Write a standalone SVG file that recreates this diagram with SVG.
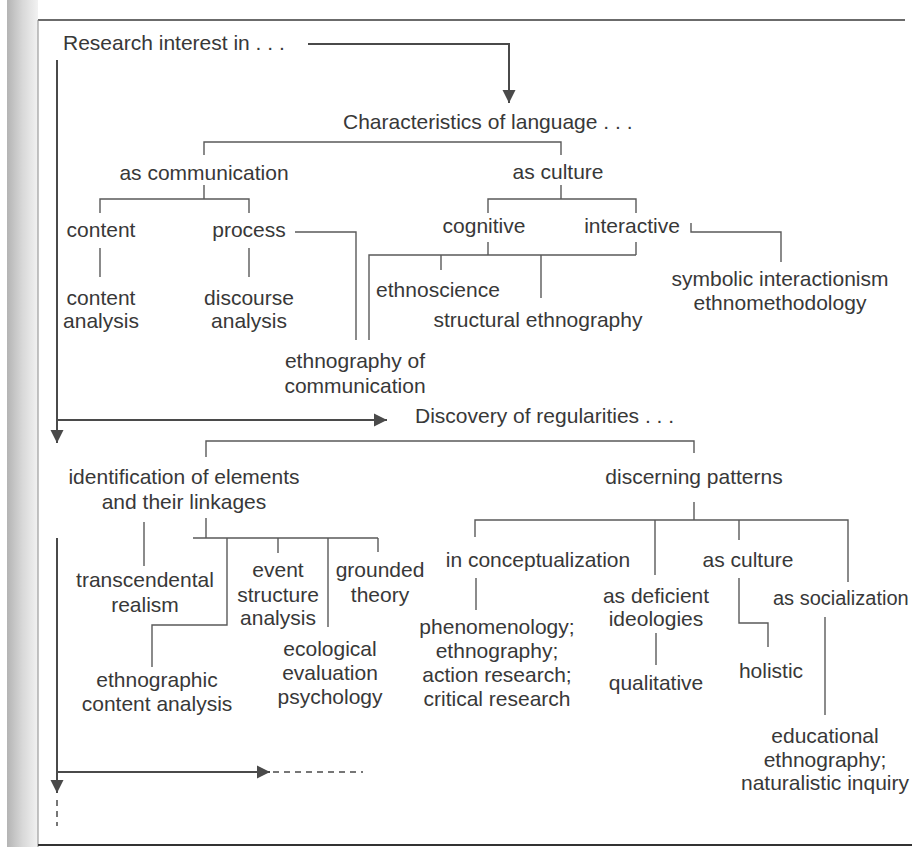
<svg xmlns="http://www.w3.org/2000/svg" width="912" height="847" viewBox="0 0 912 847">
<defs>
<linearGradient id="bind" x1="0" y1="0" x2="1" y2="0">
<stop offset="0" stop-color="#b4b4b4"/>
<stop offset="0.5" stop-color="#d8d8d8"/>
<stop offset="1" stop-color="#f2f2f2"/>
</linearGradient>
<marker id="ah" viewBox="0 0 10 10" refX="10" refY="5" markerWidth="13" markerHeight="14" markerUnits="userSpaceOnUse" orient="auto">
<path d="M0,0 L10,5 L0,10 z" fill="#4a4a4a"/>
</marker>
</defs>
<style>
text{font-family:"Liberation Sans",Arial,sans-serif;font-size:21px;fill:#383838}
.c{text-anchor:middle}
.ln{fill:none;stroke:#5a5a5a;stroke-width:1.4}
.ar{fill:none;stroke:#4a4a4a;stroke-width:2}
.da{fill:none;stroke:#4a4a4a;stroke-width:1.5;stroke-dasharray:6,5}
</style>
<rect x="0" y="0" width="912" height="847" fill="#ffffff"/>
<rect x="7" y="0" width="31" height="847" fill="url(#bind)"/>
<g id="frame">
<path d="M38,20 H905" stroke="#3a3a3a" stroke-width="1.6" fill="none"/>
<path d="M38,20 V847" stroke="#8a8a8a" stroke-width="1" fill="none"/>
<path d="M38,845 H912" stroke="#333" stroke-width="2.2" fill="none"/>
</g>
<g id="connectors">
<path class="ar" d="M308,44 H509 V103" marker-end="url(#ah)"/>
<path class="ar" d="M57,60 V443" marker-end="url(#ah)"/>
<path class="ar" d="M57,420 H387" marker-end="url(#ah)"/>
<path class="ar" d="M57,538 V793" marker-end="url(#ah)"/>
<path class="da" d="M57,800 V826"/>
<path class="ar" d="M57,772 H270" marker-end="url(#ah)"/>
<path class="da" d="M273,772 H363"/>
<path class="ln" d="M204,155 V142 H561 V155"/>
<path class="ln" d="M204,185 V199 M100,213 V199 H249 V213"/>
<path class="ln" d="M561,185 V199 M488,213 V199 H636 V213"/>
<path class="ln" d="M100,248 V277 M249,248 V277"/>
<path class="ln" d="M295,232 H356 V340"/>
<path class="ln" d="M488,242 V255 M636,242 V255 M369,340 V255 H636"/>
<path class="ln" d="M441,255 V270 M541,255 V298"/>
<path class="ln" d="M691,223 V232 H781 V262"/>
<path class="ln" d="M206,457 V441 H694 V453"/>
<path class="ln" d="M206,518 V538 M193,538 H378"/>
<path class="ln" d="M227,538 V625 H152 V667"/>
<path class="ln" d="M278,538 V553 M328,538 V627 M378,538 V552"/>
<path class="ln" d="M144,522 V566"/>
<path class="ln" d="M694,502 V520 M475,537 V520 H848 V582 M655,520 V575 M739,520 V540"/>
<path class="ln" d="M476,578 V610"/>
<path class="ln" d="M656,633 V665"/>
<path class="ln" d="M739,578 V623 H768 V647"/>
<path class="ln" d="M825,617 V715"/>
</g>
<g id="research"><text x="63" y="50">Research interest in . . .</text></g>
<g id="characteristics"><text x="343" y="129">Characteristics of language . . .</text></g>
<g id="as-communication"><text class="c" x="204" y="180">as communication</text></g>
<g id="as-culture-1"><text class="c" x="558" y="179">as culture</text></g>
<g id="content"><text class="c" x="101" y="237">content</text></g>
<g id="process"><text class="c" x="249" y="237">process</text></g>
<g id="content-analysis"><text class="c" x="101" y="305">content</text><text class="c" x="101" y="328">analysis</text></g>
<g id="discourse-analysis"><text class="c" x="249" y="305">discourse</text><text class="c" x="249" y="328">analysis</text></g>
<g id="cognitive"><text class="c" x="484" y="233">cognitive</text></g>
<g id="interactive"><text class="c" x="632" y="233">interactive</text></g>
<g id="symbolic"><text class="c" x="780" y="286">symbolic interactionism</text><text class="c" x="780" y="310">ethnomethodology</text></g>
<g id="ethnoscience"><text class="c" x="438" y="297">ethnoscience</text></g>
<g id="structural"><text class="c" x="538" y="327">structural ethnography</text></g>
<g id="ethnography-comm"><text class="c" x="355" y="368">ethnography of</text><text class="c" x="355" y="393">communication</text></g>
<g id="discovery"><text x="415" y="423">Discovery of regularities . . .</text></g>
<g id="identification"><text class="c" x="184" y="484">identification of elements</text><text class="c" x="184" y="509">and their linkages</text></g>
<g id="discerning"><text class="c" x="694" y="484">discerning patterns</text></g>
<g id="transcendental"><text class="c" x="145" y="587">transcendental</text><text class="c" x="145" y="612">realism</text></g>
<g id="event"><text class="c" x="278" y="577">event</text><text class="c" x="278" y="602">structure</text><text class="c" x="278" y="625">analysis</text></g>
<g id="grounded"><text class="c" x="380" y="577">grounded</text><text class="c" x="380" y="602">theory</text></g>
<g id="ethnographic-content"><text class="c" x="157" y="687">ethnographic</text><text class="c" x="157" y="711">content analysis</text></g>
<g id="ecological"><text class="c" x="330" y="656">ecological</text><text class="c" x="330" y="680">evaluation</text><text class="c" x="330" y="704">psychology</text></g>
<g id="conceptualization"><text class="c" x="538" y="567">in conceptualization</text></g>
<g id="phenomenology"><text class="c" x="497" y="634">phenomenology;</text><text class="c" x="497" y="658">ethnography;</text><text class="c" x="497" y="682">action research;</text><text class="c" x="497" y="706">critical research</text></g>
<g id="deficient"><text class="c" x="656" y="603">as deficient</text><text class="c" x="656" y="626">ideologies</text></g>
<g id="qualitative"><text class="c" x="656" y="690">qualitative</text></g>
<g id="as-culture-2"><text class="c" x="748" y="567">as culture</text></g>
<g id="holistic"><text class="c" x="771" y="678">holistic</text></g>
<g id="socialization"><text x="773" y="605" style="font-size:20px">as socialization</text></g>
<g id="educational"><text class="c" x="825" y="743">educational</text><text class="c" x="825" y="767">ethnography;</text><text class="c" x="825" y="790">naturalistic inquiry</text></g>
</svg>
